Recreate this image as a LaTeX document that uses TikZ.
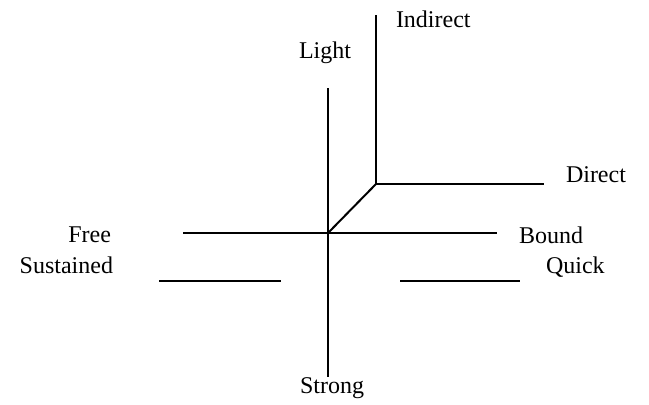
\documentclass[tikz,border=0pt]{standalone}
\usepackage{fontspec}
\setmainfont{Liberation Serif}
\begin{document}
\begin{tikzpicture}[x=0.5pt,y=-0.5pt,line width=1pt,
  lbl/.style={inner sep=0pt,font=\fontsize{12}{14}\selectfont}]
\useasboundingbox (0,0) rectangle (649,404);
% axes
\coordinate (O) at (328,233);
\coordinate (lighttop) at (328,88);
\coordinate (strongbot) at (328,377);
\coordinate (freeend) at (183,233);
\coordinate (boundend) at (497,233);
\coordinate (C) at (376,184);
\coordinate (indtop) at (376,15);
\coordinate (dirend) at (544,184);
\coordinate (susA) at (159,281);
\coordinate (susB) at (281,281);
\coordinate (quiA) at (400,281);
\coordinate (quiB) at (520,281);
\draw (lighttop) -- (strongbot);
\draw (freeend) -- (boundend);
\draw (O) -- (C);
\draw (indtop) -- (C) -- (dirend);
\draw (susA) -- (susB);
\draw (quiA) -- (quiB);
% labels
\node[lbl,anchor=base west] (indirect) at (395,27) {Indirect};
\node[lbl,anchor=base west] (light) at (298,58) {Light};
\node[lbl,anchor=base west] (direct) at (565,182) {Direct};
\node[lbl,anchor=base east] (free) at (112,242) {Free};
\node[lbl,anchor=base west] (bound) at (518,243) {Bound};
\node[lbl,anchor=base east] (sustained) at (114,273) {Sustained};
\node[lbl,anchor=base west] (quick) at (545,273) {Quick};
\node[lbl,anchor=base west] (strong) at (299,393) {Strong};
\end{tikzpicture}
\end{document}
